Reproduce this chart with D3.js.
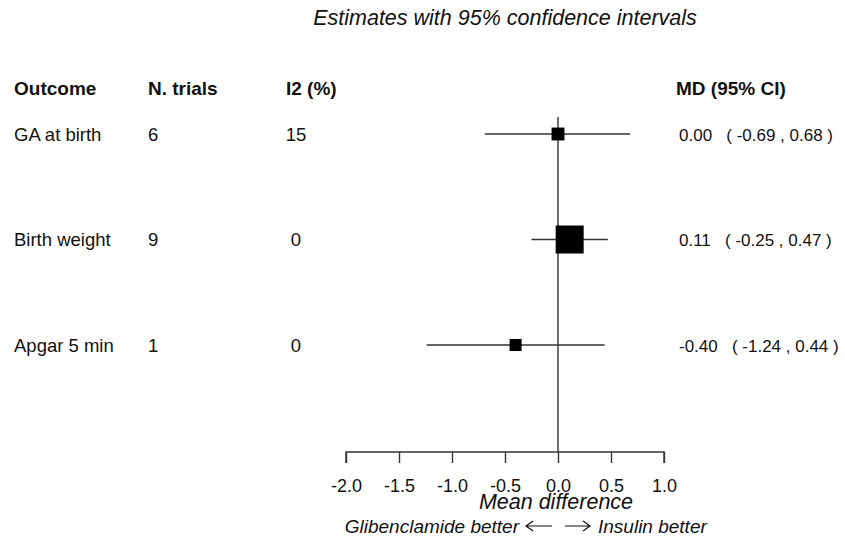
<!DOCTYPE html>
<html>
<head>
<meta charset="utf-8">
<script src="https://cdn.jsdelivr.net/npm/d3@7"></script>
<style>
  body { margin: 0; background: #fff; }
  svg { display: block; font-family: "Liberation Sans", Arial, sans-serif; }
  text { fill: #111; }
</style>
</head>
<body>
<svg id="chart" width="845" height="543"></svg>
<script>
// Data
const outcomes = ['GA at birth', 'Birth weight', 'Apgar 5 min'];
const nTrials = [6, 9, 1];
const i2 = [15, 0, 0];
const md = [0.00, 0.11, -0.40];
const lower = [-0.69, -0.25, -1.24];
const upper = [0.68, 0.47, 0.44];
const boxWeight = [0.46, 1.0, 0.43]; // relative box size
const xTicks = [-2.0, -1.5, -1.0, -0.5, 0.0, 0.5, 1.0];

const svg = d3.select('#chart');
const locale = d3.formatLocale({ decimal: '.', thousands: ',', grouping: [3], currency: ['', ''], minus: '-' });

// Scales
const x = d3.scaleLinear().domain([-2, 1]).range([346, 664]);
const y = d3.scalePoint().domain(outcomes).range([134, 345]);
const box = d3.scaleLinear().domain([0, 1]).range([0, 28]);
const axisY = 452;
const ink = '#333';

// Title
svg.append('text')
    .attr('x', 505).attr('y', 18)
    .attr('text-anchor', 'middle').attr('dominant-baseline', 'central')
    .style('font-size', '21.5px').style('font-style', 'italic')
    .text('Estimates with 95% confidence intervals');

// Column headers
const headers = [
    { label: 'Outcome', x: 14 },
    { label: 'N. trials', x: 148 },
    { label: 'I2 (%)', x: 286 },
    { label: 'MD (95% CI)', x: 676 }
];
svg.append('g').selectAll('text')
    .data(headers)
    .enter().append('text')
    .attr('x', d => d.x).attr('y', 88)
    .attr('dominant-baseline', 'central')
    .style('font-size', '19px').style('font-weight', 'bold')
    .text(d => d.label);

// Left table columns
const rows = outcomes.map((o, i) => ({
    outcome: o, n: nTrials[i], i2: i2[i], md: md[i], lo: lower[i], hi: upper[i], w: boxWeight[i]
}));

const table = svg.append('g').style('font-size', '18.5px');
table.selectAll('.outcome').data(rows).enter().append('text')
    .attr('x', 14).attr('y', d => y(d.outcome))
    .attr('dominant-baseline', 'central')
    .text(d => d.outcome);
table.selectAll('.ntrials').data(rows).enter().append('text')
    .attr('x', 148).attr('y', d => y(d.outcome))
    .attr('dominant-baseline', 'central')
    .text(d => d.n);
table.selectAll('.i2').data(rows).enter().append('text')
    .attr('x', 296).attr('y', d => y(d.outcome))
    .attr('text-anchor', 'middle').attr('dominant-baseline', 'central')
    .text(d => d.i2);

// Right column: MD (95% CI)
const fmt = locale.format('.2f');
const right = svg.append('g').style('font-size', '17px');
right.selectAll('text').data(rows).enter().append('text')
    .attr('x', 679).attr('y', d => y(d.outcome) + 1)
    .attr('dominant-baseline', 'central')
    .attr('xml:space', 'preserve')
    .style('white-space', 'pre')
    .text(d => `${fmt(d.md)}   ( ${fmt(d.lo)} , ${fmt(d.hi)} )`);

// No-effect line
svg.append('line')
    .attr('x1', x(0)).attr('x2', x(0))
    .attr('y1', 117).attr('y2', axisY)
    .attr('stroke', ink).attr('stroke-width', 1.4);

// CI lines
const plot = svg.append('g');
plot.selectAll('.ci').data(rows).enter().append('line')
    .attr('x1', d => x(d.lo)).attr('x2', d => x(d.hi))
    .attr('y1', d => y(d.outcome)).attr('y2', d => y(d.outcome))
    .attr('stroke', ink).attr('stroke-width', 1.4);

// Boxes
plot.selectAll('.box').data(rows).enter().append('rect')
    .attr('x', d => x(d.md) - box(d.w) / 2)
    .attr('y', d => y(d.outcome) - box(d.w) / 2)
    .attr('width', d => box(d.w))
    .attr('height', d => box(d.w))
    .attr('fill', '#000');

// Axis
const axis = d3.axisBottom(x)
    .tickValues(xTicks)
    .tickFormat(locale.format('.1f'))
    .tickSize(11)
    .tickPadding(16);
const axisG = svg.append('g')
    .attr('transform', `translate(0,${axisY})`)
    .call(axis);
axisG.select('.domain').attr('stroke', ink).attr('stroke-width', 1.4)
    .attr('d', `M${x(-2)},11V0H${x(1)}V11`);
axisG.selectAll('.tick line').attr('stroke', ink).attr('stroke-width', 1.4);
axisG.selectAll('.tick text')
    .attr('fill', '#111')
    .style('font-size', '18px')
    .style('font-family', '"Liberation Sans", Arial, sans-serif');

// Axis label
svg.append('text')
    .attr('x', 556).attr('y', 502)
    .attr('text-anchor', 'middle').attr('dominant-baseline', 'central')
    .style('font-size', '21.5px').style('font-style', 'italic')
    .text('Mean difference');

// Direction labels with drawn arrows
const dirY = 526;
svg.append('text')
    .attr('x', x(0) - 39).attr('y', dirY)
    .attr('text-anchor', 'end').attr('dominant-baseline', 'central')
    .style('font-size', '19px').style('font-style', 'italic')
    .text('Glibenclamide better');
svg.append('text')
    .attr('x', x(0) + 40).attr('y', dirY)
    .attr('dominant-baseline', 'central')
    .style('font-size', '19px').style('font-style', 'italic')
    .text('Insulin better');

const arrows = svg.append('g')
    .attr('fill', 'none').attr('stroke', '#111').attr('stroke-width', 1.2);
// left arrow
arrows.append('path')
    .attr('d', `M${x(0) - 6},${dirY}H${x(0) - 32}M${x(0) - 25},${dirY - 5}L${x(0) - 32},${dirY}L${x(0) - 25},${dirY + 5}`);
// right arrow
arrows.append('path')
    .attr('d', `M${x(0) + 7},${dirY}H${x(0) + 32}M${x(0) + 25},${dirY - 5}L${x(0) + 32},${dirY}L${x(0) + 25},${dirY + 5}`);
</script>
</body>
</html>
